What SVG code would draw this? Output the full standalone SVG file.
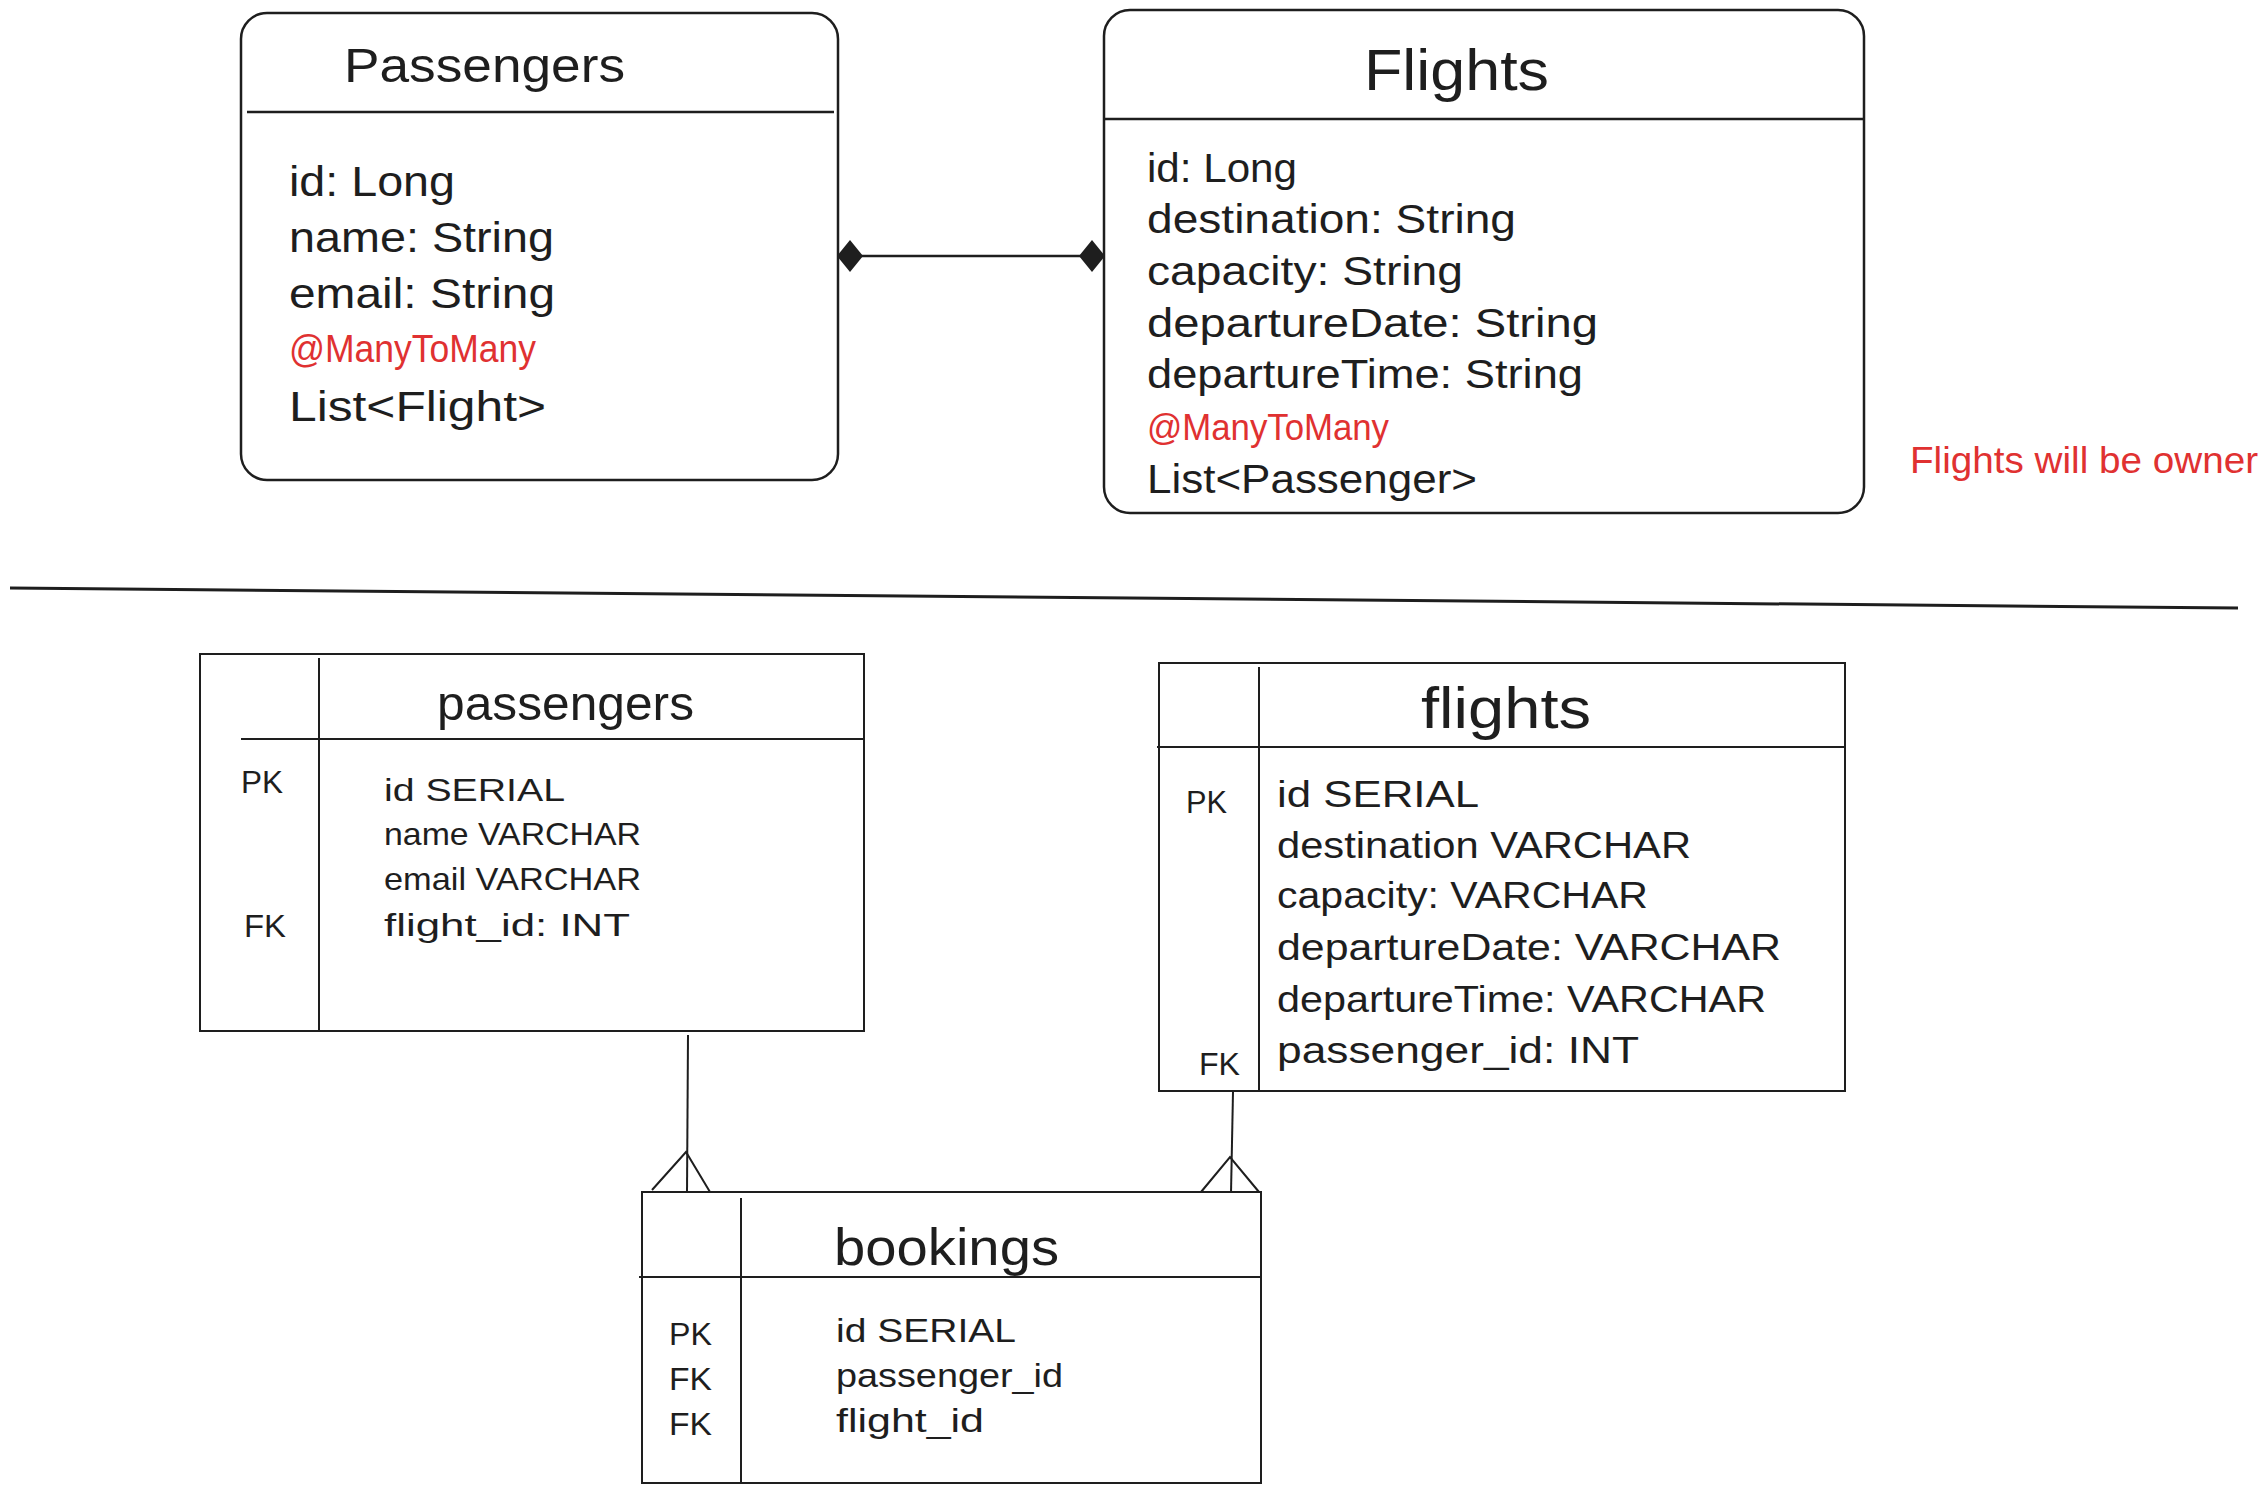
<svg xmlns="http://www.w3.org/2000/svg" width="2267" height="1494" viewBox="0 0 2267 1494">
<defs>
<style>
.box{fill:#ffffff;stroke:#1e1e1e;stroke-width:2.5}
.tbl{fill:#ffffff;stroke:#1e1e1e;stroke-width:2}
.ln{stroke:#1e1e1e;stroke-width:2.5;fill:none}
.ln2{stroke:#1e1e1e;stroke-width:2;fill:none}
text{font-family:"Liberation Sans",Arial,sans-serif;fill:#1e1e1e}
.red{fill:#e03131}
</style>
<marker id="diamond" viewBox="0 0 26 32" refX="25" refY="16" markerWidth="26" markerHeight="32" markerUnits="userSpaceOnUse" orient="auto-start-reverse">
<path d="M0,16 L13,0 L26,16 L13,32 Z" fill="#1e1e1e"/>
</marker>
</defs>
<rect width="2267" height="1494" fill="#ffffff"/>

<g id="connectors">
<line class="ln" x1="838" y1="256" x2="1104" y2="256" marker-start="url(#diamond)" marker-end="url(#diamond)"/>
<line class="ln2" x1="688" y1="1035" x2="687" y2="1192"/>
<polyline class="ln2" points="652,1190 686,1152 710,1192"/>
<line class="ln2" x1="1233" y1="1092" x2="1231" y2="1193"/>
<polyline class="ln2" points="1201,1192 1230,1157 1259,1192"/>
</g>

<g id="separator">
<line x1="10" y1="588" x2="2238" y2="608" stroke="#1e1e1e" stroke-width="3"/>
</g>

<g id="Passengers">
<rect class="box" x="241" y="13" width="597" height="467" rx="26"/>
<line class="ln" x1="247" y1="112" x2="834" y2="112" stroke-width="3"/>
<text x="344" y="82" font-size="48" textLength="281" lengthAdjust="spacingAndGlyphs">Passengers</text>
<text x="289" y="196" font-size="42" textLength="166" lengthAdjust="spacingAndGlyphs">id: Long</text>
<text x="289" y="252" font-size="42" textLength="265" lengthAdjust="spacingAndGlyphs">name: String</text>
<text x="289" y="308" font-size="42" textLength="266" lengthAdjust="spacingAndGlyphs">email: String</text>
<text class="red" x="289" y="362" font-size="38" textLength="247" lengthAdjust="spacingAndGlyphs">@ManyToMany</text>
<text x="289" y="421" font-size="42" textLength="257" lengthAdjust="spacingAndGlyphs">List&lt;Flight&gt;</text>
</g>

<g id="Flights">
<rect class="box" x="1104" y="10" width="760" height="503" rx="26"/>
<line class="ln" x1="1104" y1="119" x2="1864" y2="119" stroke-width="3"/>
<text x="1364" y="90" font-size="58" textLength="185" lengthAdjust="spacingAndGlyphs">Flights</text>
<text x="1147" y="182" font-size="40" textLength="150" lengthAdjust="spacingAndGlyphs">id: Long</text>
<text x="1147" y="233" font-size="40" textLength="369" lengthAdjust="spacingAndGlyphs">destination: String</text>
<text x="1147" y="285" font-size="40" textLength="316" lengthAdjust="spacingAndGlyphs">capacity: String</text>
<text x="1147" y="337" font-size="40" textLength="451" lengthAdjust="spacingAndGlyphs">departureDate: String</text>
<text x="1147" y="388" font-size="40" textLength="436" lengthAdjust="spacingAndGlyphs">departureTime: String</text>
<text class="red" x="1147" y="440" font-size="36" textLength="242" lengthAdjust="spacingAndGlyphs">@ManyToMany</text>
<text x="1147" y="493" font-size="40" textLength="330" lengthAdjust="spacingAndGlyphs">List&lt;Passenger&gt;</text>
</g>

<g id="note">
<text class="red" x="1910" y="473" font-size="36" textLength="348" lengthAdjust="spacingAndGlyphs">Flights will be owner</text>
</g>

<g id="passengers_table">
<rect class="tbl" x="200" y="654" width="664" height="377"/>
<line class="ln2" x1="319" y1="658" x2="319" y2="1031"/>
<line class="ln2" x1="241" y1="739" x2="864" y2="739"/>
<text x="437" y="720" font-size="48" textLength="257" lengthAdjust="spacingAndGlyphs">passengers</text>
<text x="241" y="793" font-size="32" textLength="42" lengthAdjust="spacingAndGlyphs">PK</text>
<text x="244" y="937" font-size="32" textLength="42" lengthAdjust="spacingAndGlyphs">FK</text>
<text x="384" y="801" font-size="32" textLength="181" lengthAdjust="spacingAndGlyphs">id SERIAL</text>
<text x="384" y="845" font-size="32" textLength="257" lengthAdjust="spacingAndGlyphs">name VARCHAR</text>
<text x="384" y="890" font-size="32" textLength="257" lengthAdjust="spacingAndGlyphs">email VARCHAR</text>
<text x="384" y="936" font-size="32" textLength="246" lengthAdjust="spacingAndGlyphs">flight_id: INT</text>
</g>

<g id="flights_table">
<rect class="tbl" x="1159" y="663" width="686" height="428"/>
<line class="ln2" x1="1259" y1="667" x2="1259" y2="1091"/>
<line class="ln2" x1="1157" y1="747" x2="1845" y2="747"/>
<text x="1421" y="728" font-size="58" textLength="170" lengthAdjust="spacingAndGlyphs">flights</text>
<text x="1186" y="813" font-size="32" textLength="41" lengthAdjust="spacingAndGlyphs">PK</text>
<text x="1199" y="1075" font-size="32" textLength="41" lengthAdjust="spacingAndGlyphs">FK</text>
<text x="1277" y="807" font-size="36" textLength="202" lengthAdjust="spacingAndGlyphs">id SERIAL</text>
<text x="1277" y="858" font-size="36" textLength="414" lengthAdjust="spacingAndGlyphs">destination VARCHAR</text>
<text x="1277" y="908" font-size="36" textLength="371" lengthAdjust="spacingAndGlyphs">capacity: VARCHAR</text>
<text x="1277" y="960" font-size="36" textLength="504" lengthAdjust="spacingAndGlyphs">departureDate: VARCHAR</text>
<text x="1277" y="1012" font-size="36" textLength="489" lengthAdjust="spacingAndGlyphs">departureTime: VARCHAR</text>
<text x="1277" y="1063" font-size="36" textLength="362" lengthAdjust="spacingAndGlyphs">passenger_id: INT</text>
</g>

<g id="bookings_table">
<rect class="tbl" x="642" y="1192" width="619" height="291"/>
<line class="ln2" x1="741" y1="1198" x2="741" y2="1483"/>
<line class="ln2" x1="639" y1="1277" x2="1261" y2="1277"/>
<text x="834" y="1265" font-size="52" textLength="225" lengthAdjust="spacingAndGlyphs">bookings</text>
<text x="669" y="1345" font-size="32" textLength="43" lengthAdjust="spacingAndGlyphs">PK</text>
<text x="669" y="1390" font-size="32" textLength="43" lengthAdjust="spacingAndGlyphs">FK</text>
<text x="669" y="1435" font-size="32" textLength="43" lengthAdjust="spacingAndGlyphs">FK</text>
<text x="836" y="1342" font-size="34" textLength="180" lengthAdjust="spacingAndGlyphs">id SERIAL</text>
<text x="836" y="1387" font-size="34" textLength="227" lengthAdjust="spacingAndGlyphs">passenger_id</text>
<text x="836" y="1432" font-size="34" textLength="148" lengthAdjust="spacingAndGlyphs">flight_id</text>
</g>
</svg>
